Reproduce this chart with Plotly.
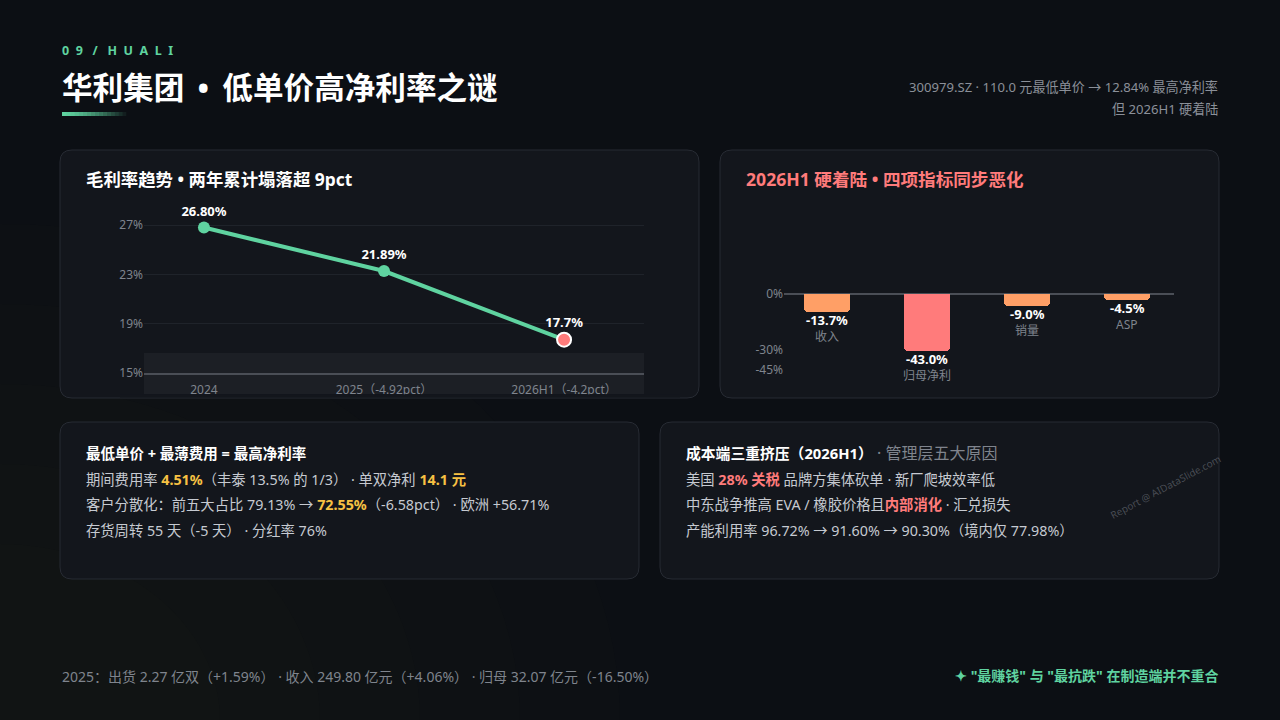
import plotly.graph_objects as go

W, H = 1280, 720      # design coordinates (pixels of the slide)
FIG_H = 728           # figure height (page photo is scaled back to 720)
FONT = "Noto Sans, Noto Sans CJK SC, sans-serif"
GREEN = "#5fd3a0"
RED = "#ff7b7b"
ORANGE = "#ff9f66"
YELLOW = "#f7c143"
GRAY = "#7f848d"
BODY = "#c6cad1"
CARD_FILL = "#13161c"
CARD_LINE = "#272b33"
BG = "#0c0f14"

# ---------------- data ----------------
gm_periods = ["2024", "2025（-4.92pct）", "2026H1（-4.2pct）"]
gm_values = [26.80, 23.27, 17.70]
gm_labels = ["26.80%", "21.89%", "17.7%"]
gm_yticks = [15, 19, 23, 27]

h1_metrics = ["收入", "归母净利", "销量", "ASP"]
h1_changes = [-13.7, -43.0, -9.0, -4.5]
h1_tickvals = [0, -42, -57]
h1_ticktext = ["0%", "-30%", "-45%"]


def px(x):
    return x / W


def py(y):
    return 1 - y / H


def rrect(x0, y0, x1, y1, r):
    """rounded rect path in paper coords from pixel coords"""
    pts = [
        f"M{px(x0 + r)},{py(y0)}",
        f"L{px(x1 - r)},{py(y0)}",
        f"Q{px(x1)},{py(y0)} {px(x1)},{py(y0 + r)}",
        f"L{px(x1)},{py(y1 - r)}",
        f"Q{px(x1)},{py(y1)} {px(x1 - r)},{py(y1)}",
        f"L{px(x0 + r)},{py(y1)}",
        f"Q{px(x0)},{py(y1)} {px(x0)},{py(y1 - r)}",
        f"L{px(x0)},{py(y0 + r)}",
        f"Q{px(x0)},{py(y0)} {px(x0 + r)},{py(y0)}",
        "Z",
    ]
    return " ".join(pts)


fig = go.Figure()

# ---------------- left: gross margin line ----------------
fig.add_trace(go.Scatter(
    x=gm_periods, y=gm_values, mode="lines+markers+text",
    text=[f"<b>{t}</b>" for t in gm_labels], textposition="top center",
    textfont=dict(color="#ffffff", size=13, family=FONT),
    line=dict(color=GREEN, width=4),
    marker=dict(size=[12, 12, 14], color=[GREEN, GREEN, RED], opacity=1,
                line=dict(color=[GREEN, GREEN, "#ffffff"], width=[0, 0, 2])),
    xaxis="x", yaxis="y", cliponaxis=False, hoverinfo="skip", showlegend=False,
))

# ---------------- right: 2026H1 bars ----------------
fig.add_trace(go.Bar(
    x=h1_metrics, y=h1_changes, width=0.46,
    marker=dict(color=[ORANGE, RED, ORANGE, ORANGE], cornerradius=4, line=dict(width=0)),
    xaxis="x2", yaxis="y2", hoverinfo="skip", showlegend=False,
))

annotations = []
for m, v in zip(h1_metrics, h1_changes):
    annotations.append(dict(xref="x2", yref="y2", x=m, y=v, yanchor="top", yshift=3,
                            text=f"<b>{v:.1f}%</b>", showarrow=False,
                            font=dict(color="#ffffff", size=13, family=FONT)))
    annotations.append(dict(xref="x2", yref="y2", x=m, y=v, yanchor="top", yshift=-14,
                            text=m, showarrow=False,
                            font=dict(color=GRAY, size=12, family=FONT)))


def txt(x, y, text, size=14.3, color=BODY, anchor="left", **kw):
    d = dict(xref="paper", yref="paper", x=px(x), y=py(y), xanchor=anchor, yanchor="middle",
             text=text, showarrow=False, font=dict(size=size, color=color, family=FONT))
    d.update(kw)
    annotations.append(d)


def hl(t, c):
    return f"<b><span style='color:{c}'>{t}</span></b>"


NB2 = "\u00a0\u00a0"
NB3 = "\u00a0\u00a0\u00a0"
BUL_BIG = "\u2004\u200a•\u200a\u2004"
# header
txt(60, 51, "<b>" + NB2.join(list("09")) + NB3 + "/" + NB3 + NB2.join(list("HUALI")) + "</b>", size=12.5, color=GREEN)
txt(60, 87, "<b>华利集团" + BUL_BIG + "低单价高净利率之谜</b>", size=30.6, color="#ffffff")
txt(1220, 87, "300979.SZ · 110.0 元最低单价 → 12.84% 最高净利率", size=13.1, color="#8b9099", anchor="right")
txt(1220, 109, "但 2026H1 硬着陆", size=13.1, color="#8b9099", anchor="right")

# card titles
txt(84, 179, "<b>毛利率趋势 • 两年累计塌落超 9pct</b>", size=17.4, color="#ffffff")
txt(744, 179, "<b>2026H1 硬着陆 • 四项指标同步恶化</b>", size=17.6, color=RED)

# bottom-left card
txt(84, 453, "<b>最低单价 + 最薄费用 = 最高净利率</b>", size=14.5, color="#ffffff")
txt(84, 479, "期间费用率 " + hl("4.51%", YELLOW) + "（丰泰 13.5% 的 1/3） · 单双净利 " + hl("14.1 元", YELLOW))
txt(84, 505, "客户分散化：前五大占比 79.13% → " + hl("72.55%", YELLOW) + "（-6.58pct） · 欧洲 +56.71%")
txt(84, 530, "存货周转 55 天（-5 天） · 分红率 76%")

# bottom-right card
txt(684, 453, "<b><span style='color:#ffffff'>成本端三重挤压（2026H1）</span></b>"
              "<span style='color:#7f848d;font-size:16px'> · 管理层五大原因</span>", size=14.8)
txt(684, 479, "美国 " + hl("28% 关税", RED) + " 品牌方集体砍单 · 新厂爬坡效率低")
txt(684, 505, "中东战争推高 EVA / 橡胶价格且" + hl("内部消化", RED) + " · 汇兑损失")
txt(684, 530, "产能利用率 96.72% → 91.60% → 90.30%（境内仅 77.98%）")

# watermark
annotations.append(dict(xref="paper", yref="paper", x=px(1165), y=py(487), xanchor="center", yanchor="middle",
                        text="Report @ AIDataSlide.com", showarrow=False, textangle=-28,
                        font=dict(size=10, color="rgba(140,145,155,0.45)", family=FONT)))

# footer
txt(60, 676, "2025：出货 2.27 亿双（+1.59%） · 收入 249.80 亿元（+4.06%） · 归母 32.07 亿元（-16.50%）",
    size=14, color=GRAY)
txt(1220, 675, "<b>✦ \"最赚钱\" 与 \"最抗跌\" 在制造端并不重合</b>", size=14, color=GREEN, anchor="right")

# ---------------- shapes ----------------
shapes = []
# background glow bottom-left
for r in [620, 520, 420, 320, 220]:
    shapes.append(dict(type="circle", xref="paper", yref="paper", layer="below",
                       x0=px(-r), x1=px(r), y0=py(720 + r * 0.8), y1=py(720 - r * 0.8),
                       fillcolor="rgba(80,95,45,0.025)", line=dict(width=0)))
for (x0, y0, x1, y1) in [(60, 150, 699, 398), (720, 150, 1219, 398), (60, 422, 639, 579), (660, 422, 1219, 579)]:
    shapes.append(dict(type="path", path=rrect(x0, y0, x1, y1, 12), xref="paper", yref="paper", layer="below",
                       fillcolor=CARD_FILL, line=dict(color=CARD_LINE, width=1)))
# shaded band at bottom of line chart
shapes.append(dict(type="rect", xref="paper", yref="paper", layer="below",
                   x0=px(144), x1=px(644), y0=py(394), y1=py(353),
                   fillcolor="#1c1f25", line=dict(width=0)))
# clip strip under the line chart (hides label overflow like the original container)
shapes.append(dict(type="rect", xref="paper", yref="paper", layer="above",
                   x0=px(120), x1=px(680), y0=py(397.4), y1=py(394.3),
                   fillcolor=CARD_FILL, line=dict(width=0)))
# accent underline (fading)
n = 16
for i in range(n):
    xa = 62 + i * 64 / n
    shapes.append(dict(type="rect", xref="paper", yref="paper", layer="above",
                       x0=px(xa), x1=px(xa + 64 / n + 0.3), y0=py(116), y1=py(112),
                       fillcolor=GREEN, opacity=max(0.05, 1 - (i / n) ** 1.3), line=dict(width=0)))

fig.update_layout(
    width=W, height=FIG_H, margin=dict(l=0, r=0, t=0, b=0),
    paper_bgcolor=BG, plot_bgcolor="rgba(0,0,0,0)",
    font=dict(family=FONT, color=GRAY),
    showlegend=False, bargap=0,
    shapes=shapes, annotations=annotations,
    xaxis=dict(domain=[px(144), px(644)], range=[-0.333, 2.444], type="category",
               showgrid=False, zeroline=False, showline=True, linecolor="#4a4e56", linewidth=2,
               ticks="", ticklabelstandoff=5, tickfont=dict(size=12, color=GRAY, family=FONT),
               anchor="y", fixedrange=True),
    yaxis=dict(domain=[py(373), py(199)], range=[15, 29.11], tickvals=gm_yticks,
               ticktext=[f"{v}%" for v in gm_yticks], showgrid=True, gridcolor="#1f232a", gridwidth=1,
               zeroline=False, showline=False, ticks="", tickfont=dict(size=12, color=GRAY, family=FONT),
               anchor="x", fixedrange=True),
    xaxis2=dict(domain=[px(784), px(1174)], range=[-0.43, 3.47], type="category",
                showticklabels=False, showgrid=False, zeroline=False, showline=False, anchor="y2", fixedrange=True),
    yaxis2=dict(domain=[py(390), py(190)], range=[-72, 78], tickvals=h1_tickvals, ticktext=h1_ticktext,
                showgrid=False, zeroline=True, zerolinecolor="#4a4e56", zerolinewidth=2, showline=False,
                ticks="", tickfont=dict(size=12, color=GRAY, family=FONT), anchor="x2", fixedrange=True),
)

fig.write_html("out.html", config={"displayModeBar": False},
               post_script="document.body.style.margin='0';document.body.style.overflow='hidden';"
                           "document.documentElement.style.background='#0c0f14';"
                           "document.body.style.background='#0c0f14';")
